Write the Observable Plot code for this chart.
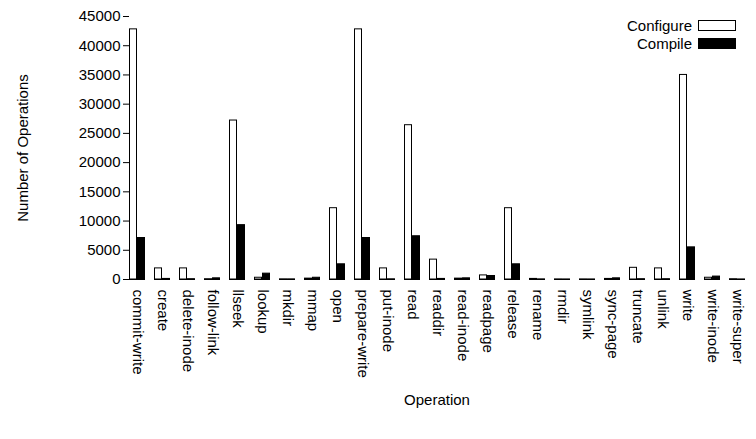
<!DOCTYPE html>
<html><head><meta charset="utf-8">
<script src="https://cdn.jsdelivr.net/npm/d3@7"></script>
<script src="https://cdn.jsdelivr.net/npm/@observablehq/plot@0.6"></script>
<style>
body{margin:0;background:#fff;font-family:"Liberation Sans",Arial,sans-serif;}
#wrap{position:relative;width:756px;height:439px;}
.leg{position:absolute;font-size:15px;display:flex;align-items:center;justify-content:flex-end;right:20px;}
.sw{width:36px;height:9px;border:1px solid #000;margin-left:6px;}
</style></head><body>
<div id="wrap"><div id="chart"></div>
<div class="leg" style="top:17px">Configure<div class="sw" style="background:#fff"></div></div>
<div class="leg" style="top:35px">Compile<div class="sw" style="background:#000"></div></div>
</div>
<script>
var ops = ["commit-write","create","delete-inode","follow-link","llseek","lookup","mkdir","mmap","open","prepare-write","put-inode","read","readdir","read-inode","readpage","release","rename","rmdir","symlink","sync-page","truncate","unlink","write","write-inode","write-super"];
var configure = [42800,1900,1900,50,27200,300,30,150,12200,42800,1900,26400,3400,150,700,12200,100,20,20,100,2000,1900,35000,300,50];
var compile = [7100,100,50,200,9300,1000,20,300,2600,7100,30,7400,100,200,600,2600,20,10,10,200,50,50,5500,500,10];
var series = ["Configure","Compile"];

var data = [];
ops.forEach((op, i) => {
  data.push({op: op, s: "Configure", v: configure[i]});
  data.push({op: op, s: "Compile", v: compile[i]});
});

var plot = Plot.plot({
  width: 756,
  height: 439,
  marginLeft: 118,
  marginRight: 0,
  marginTop: 16,
  marginBottom: 160,
  style: {fontFamily: "Liberation Sans, Arial, sans-serif", fontSize: "15px", color: "#000"},
  fx: {domain: ops, padding: 0.34, label: null, tickRotate: 90, tickSize: 0, tickPadding: 10},
  x: {domain: series, axis: null, padding: 0},
  y: {domain: [0, 45000], axis: null},
  color: {domain: series, range: ["#fff", "#000"]},
  marks: [
    Plot.barY(data, {fx: "op", x: "s", y: "v", fill: "s", stroke: "#000", strokeWidth: 1, insetLeft: 0.5, insetRight: 0.5}),
    Plot.ruleY([0], {stroke: "#000"}),
    Plot.axisY({ticks: d3.range(0, 45001, 5000), tickSize: 6, label: "Number of Operations", labelAnchor: "center", labelArrow: "none", labelOffset: 112, tickFormat: d => String(d)}),
    Plot.ruleX([0], {stroke: "#000", frameAnchor: "left"})
  ]
});
document.getElementById("chart").appendChild(plot);
d3.select(plot).append("text").attr("x", 118 + (756 - 118) / 2).attr("y", 405).attr("text-anchor", "middle").attr("font-size", 15).text("Operation");
</script></body></html>
